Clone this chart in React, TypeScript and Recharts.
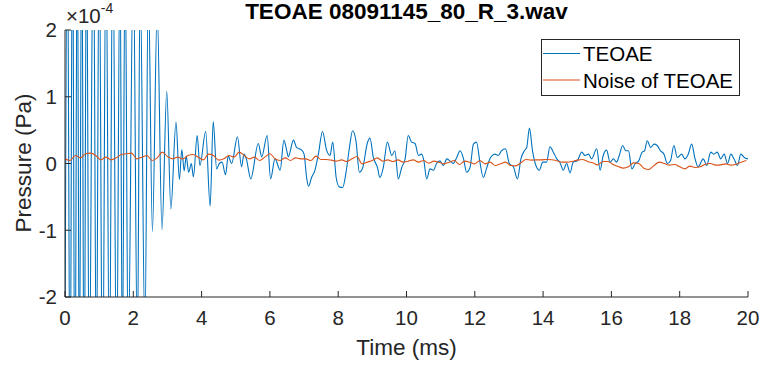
import React from "react";
import { LineChart, Line, XAxis, YAxis } from "recharts";

// axis ticks (time in ms, pressure in units of 1e-4 Pa)
const xTicks = [0, 2, 4, 6, 8, 10, 12, 14, 16, 18, 20];
const yTicks = [-2, -1, 0, 1, 2];

// TEOAE trace at its turning points
const teoaeTimes = [
  0, 0.07, 0.15, 0.22, 0.29, 0.36, 0.42, 0.49, 0.56, 0.63,
  0.71, 0.83, 0.92, 1.0, 1.1, 1.2, 1.3, 1.4, 1.51, 1.61,
  1.68, 1.76, 1.85, 2.0, 2.12, 2.2, 2.34, 2.44, 2.56, 2.7,
  2.84, 2.98, 3.1, 3.25, 3.35, 3.42, 3.49, 3.55, 3.62, 3.7,
  3.76, 3.87, 3.95, 4.12, 4.25, 4.34, 4.44, 4.52, 4.6, 4.7,
  4.78, 4.88, 5.05, 5.17, 5.24, 5.31, 5.44, 5.66, 5.76, 5.92,
  6.02, 6.15, 6.3, 6.41, 6.49, 6.54, 6.69, 6.78, 6.93, 7.0,
  7.08, 7.13, 7.22, 7.32, 7.42, 7.54, 7.66, 7.76, 7.84, 7.94,
  8.03, 8.13, 8.23, 8.33, 8.42, 8.52, 8.62, 8.72, 8.85, 8.93,
  9.03, 9.15, 9.22, 9.32, 9.44, 9.57, 9.66, 9.76, 9.86, 9.96,
  10.05, 10.15, 10.25, 10.35, 10.44, 10.51, 10.59, 10.69, 10.79, 10.88,
  10.98, 11.08, 11.18, 11.27, 11.37, 11.47, 11.57, 11.67, 11.76, 11.86,
  11.96, 12.05, 12.15, 12.25, 12.34, 12.46, 12.59, 12.69, 12.78, 12.9,
  13.01, 13.13, 13.25, 13.35, 13.45, 13.52, 13.6, 13.69, 13.79, 13.89,
  13.99, 14.1, 14.2, 14.3, 14.4, 14.49, 14.59, 14.69, 14.79, 14.88,
  15.0, 15.13, 15.23, 15.33, 15.42, 15.57, 15.67, 15.76, 15.86, 15.96,
  16.06, 16.15, 16.23, 16.33, 16.42, 16.5, 16.6, 16.7, 16.8, 16.9,
  16.97, 17.05, 17.15, 17.25, 17.34, 17.44, 17.54, 17.64, 17.73, 17.83,
  17.93, 18.06, 18.15, 18.25, 18.35, 18.45, 18.54, 18.69, 18.79, 18.91,
  19.0, 19.1, 19.2, 19.3, 19.4, 19.5, 19.59, 19.69, 19.79, 19.89,
  19.98, 20,
];
const teoaeValues = [
  -2.8, 3.6, -3.9, 4.1, -4.2, 3.8, -3.6, 3.9, -4.0, 3.7,
  -3.5, 3.8, -3.4, 3.6, -3.8, 3.5, -3.3, 3.6, -3.4, 3.2,
  -3.1, 3.3, -3.0, 3.1, -2.9, 2.8, -2.6, 2.7, -1.02, 2.3,
  -0.99, 1.08, -0.68, 0.62, -0.24, 0.21, -0.11, 0.11, -0.13, 0.0,
  -0.2, 0.42, -0.03, 0.48, -0.64, 0.63, -0.08, 0.0, 0.02, -0.17,
  0.11, 0.0, 0.4, -0.05, 0.14, 0.07, -0.23, 0.3, 0.1, 0.42,
  -0.23, 0.07, -0.1, 0.35, 0.2, 0.1, 0.35, 0.24, 0.2, 0.14,
  -0.23, -0.34, -0.21, -0.1, 0.14, 0.48, 0.2, 0.12, 0.32, -0.21,
  -0.35, -0.36, -0.13, 0.24, 0.49, 0.34, -0.13, -0.06, 0.3, 0.38,
  0.09, -0.06, -0.21, -0.06, 0.32, 0.12, 0.19, -0.23, -0.06, 0.07,
  0.42, 0.32, 0.3, 0.12, 0.14, 0.04, -0.23, -0.08, -0.1, 0.0,
  0.04, -0.03, 0.07, 0.04, 0.0, 0.09, 0.19, 0.07, -0.13, -0.06,
  0.29, 0.32, 0.02, -0.21, -0.08, 0.09, 0.14, 0.12, 0.19, 0.22,
  0.0, -0.05, -0.23, 0.07, 0.19, 0.24, 0.53, 0.19, -0.03, -0.1,
  0.02, 0.02, 0.25, 0.17, 0.07, 0.02, -0.1, 0.0, -0.14, 0.02,
  0.04, 0.17, 0.12, 0.14, 0.07, 0.22, -0.1, 0.12, 0.2, 0.02,
  0.07, 0.02, 0.12, 0.27, 0.19, 0.19, -0.08, 0.0, 0.04, 0.17,
  0.19, 0.34, 0.24, 0.29, 0.27, 0.19, 0.14, 0.0, 0.04, 0.27,
  0.09, 0.14, 0.07, 0.14, 0.29, 0.07, -0.05, 0.07, -0.03, 0.17,
  0.14, 0.17, 0.07, 0.14, 0.0, 0.14, 0.07, -0.03, 0.14, 0.09,
  0.07, 0.08,
];

// noise floor, one value every 0.15 ms from 0
const noiseStep = 0.15;
const noiseValues = [
  0.07, 0.045, 0.12, 0.085, 0.145, 0.155, 0.12, 0.055, 0.095, 0.055,
  0.085, 0.135, 0.145, 0.155, 0.07, 0.095, 0.12, 0.045, 0.085, 0.17,
  0.105, 0.07, 0.095, 0.07, 0.12, 0.135, 0.095, 0.055, 0.14, 0.12,
  0.05, 0.07, 0.12, 0.095, 0.17, 0.12, 0.07, 0.095, 0.045, 0.095,
  0.145, 0.07, 0.045, 0.085, 0.045, 0.085, 0.07, 0.07, 0.045, 0.11,
  0.06, 0.06, 0.05, 0.035, 0.055, 0.03, 0.07, 0.105, -0.005, 0.02,
  0.045, 0.085, 0.035, 0.055, 0.03, 0.055, 0.02, 0.035, 0.055, 0.02,
  0.045, 0.005, 0.035, 0.02, -0.005, 0.02, 0.045, -0.015, 0.035, 0.02,
  -0.005, 0.045, -0.005, 0.02, -0.03, -0.005, 0.02, -0.03, -0.035, 0.01,
  0.06, 0.05, 0.055, 0.055, 0.06, 0.055, 0.04, 0.02, 0.02, 0.03,
  0.05, 0.06, 0.03, 0.01, -0.02, 0.03, 0.03, -0.015, -0.045, -0.07,
  -0.05, 0.01, 0.0, -0.07, -0.09, -0.03, 0.02, 0.0, -0.025, -0.015,
  -0.05, -0.08, -0.04, -0.06, -0.05, -0.01, 0.0, -0.025, -0.02, -0.005,
  -0.025, -0.01, 0.02, 0.045,
];

const seriesNames = ["TEOAE", "Noise of TEOAE"];
const seriesColors = ["#0072BD", "#D95319"];

const teoaeData = teoaeTimes.map((t, i) => ({ t, p: teoaeValues[i] }));
const noiseData = noiseValues.map((p, i) => ({ t: Math.round(i * noiseStep * 100) / 100, p }));

const FONT = '"Liberation Sans", Arial, Helvetica, sans-serif';
const AXIS = "#262626";
const W = 763;
const H = 370;
const TICK_LEN = 6;

// MATLAB style ticks: marks point into the plot, labels outside
const BottomTick = (props: any) => {
  const { x, y, payload } = props;
  return (
    <g>
      <line x1={x} x2={x} y1={y} y2={y - TICK_LEN} stroke={AXIS} />
      <text x={x} y={y + 28} textAnchor="middle" fill={AXIS} fontSize={20.5} fontFamily={FONT}>
        {payload.value}
      </text>
    </g>
  );
};

const LeftTick = (props: any) => {
  const { x, y, payload } = props;
  return (
    <g>
      <line x1={x} x2={x + TICK_LEN} y1={y} y2={y} stroke={AXIS} />
      <text x={x - 8} y={y} dy="0.36em" textAnchor="end" fill={AXIS} fontSize={20.5} fontFamily={FONT}>
        {payload.value}
      </text>
    </g>
  );
};

const TopTick = (props: any) => {
  const { x, y } = props;
  return <line x1={x} x2={x} y1={y} y2={y + TICK_LEN} stroke={AXIS} />;
};

const RightTick = (props: any) => {
  const { x, y } = props;
  return <line x1={x - TICK_LEN} x2={x} y1={y} y2={y} stroke={AXIS} />;
};

export default function App() {
  return (
    <div style={{ position: "absolute", left: 0, top: 0, width: W, height: H, background: "#fff" }}>
      <LineChart width={W} height={H} margin={{ top: 30, right: 15, bottom: 43, left: 35 }}>
        <XAxis
          xAxisId="b"
          dataKey="t"
          type="number"
          domain={[0, 20]}
          ticks={xTicks}
          interval={0}
          allowDataOverflow
          height={30}
          tickSize={0}
          tickMargin={0}
          tickLine={false}
          axisLine={{ stroke: AXIS }}
          tick={<BottomTick />}
        />
        <XAxis
          xAxisId="t"
          orientation="top"
          dataKey="t"
          type="number"
          domain={[0, 20]}
          ticks={xTicks}
          interval={0}
          allowDataOverflow
          height={0}
          tickSize={0}
          tickMargin={0}
          tickLine={false}
          axisLine={{ stroke: AXIS }}
          tick={<TopTick />}
        />
        <YAxis
          yAxisId="l"
          type="number"
          domain={[-2, 2]}
          ticks={yTicks}
          interval={0}
          allowDataOverflow
          width={30}
          tickSize={0}
          tickMargin={0}
          tickLine={false}
          axisLine={{ stroke: AXIS }}
          tick={<LeftTick />}
        />
        <YAxis
          yAxisId="r"
          orientation="right"
          type="number"
          domain={[-2, 2]}
          ticks={yTicks}
          interval={0}
          allowDataOverflow
          width={0}
          tickSize={0}
          tickMargin={0}
          tickLine={false}
          axisLine={{ stroke: AXIS }}
          tick={<RightTick />}
        />
        <Line
          xAxisId="b"
          yAxisId="l"
          data={teoaeData}
          dataKey="p"
          name={seriesNames[0]}
          type="monotone"
          stroke={seriesColors[0]}
          strokeWidth={1.1}
          dot={false}
          activeDot={false}
          isAnimationActive={false}
        />
        <Line
          xAxisId="b"
          yAxisId="l"
          data={noiseData}
          dataKey="p"
          name={seriesNames[1]}
          type="monotone"
          stroke={seriesColors[1]}
          strokeWidth={1.1}
          dot={false}
          activeDot={false}
          isAnimationActive={false}
        />
      </LineChart>

      {/* title, exponent, axis titles and legend box */}
      <svg
        width={W}
        height={H}
        style={{ position: "absolute", left: 0, top: 0, pointerEvents: "none" }}
        fontFamily={FONT}
      >
        <text x={406.5} y={18.5} textAnchor="middle" fontSize={22.5} fontWeight="bold" fill="#000">
          TEOAE 08091145_80_R_3.wav
        </text>
        <text x={66} y={23} fontSize={20.5} fill={AXIS}>
          ×10
          <tspan fontSize={14} dy={-10}>-4</tspan>
        </text>
        <text x={406.5} y={355} textAnchor="middle" fontSize={22.5} fill={AXIS}>
          Time (ms)
        </text>
        <text x={31} y={163} textAnchor="middle" fontSize={22.5} fill={AXIS} transform="rotate(-90 31 163)">
          Pressure (Pa)
        </text>
        <rect x={541.5} y={39.5} width={198} height={56} fill="#fff" stroke={AXIS} strokeWidth={1} />
        {seriesNames.map((name, i) => (
          <g key={name}>
            <line x1={543} x2={580} y1={53.5 + i * 26.5} y2={53.5 + i * 26.5} stroke={seriesColors[i]} strokeWidth={1.1} />
            <text x={583} y={61 + i * 27} fontSize={20.5} fill="#000">
              {name}
            </text>
          </g>
        ))}
      </svg>
    </div>
  );
}
